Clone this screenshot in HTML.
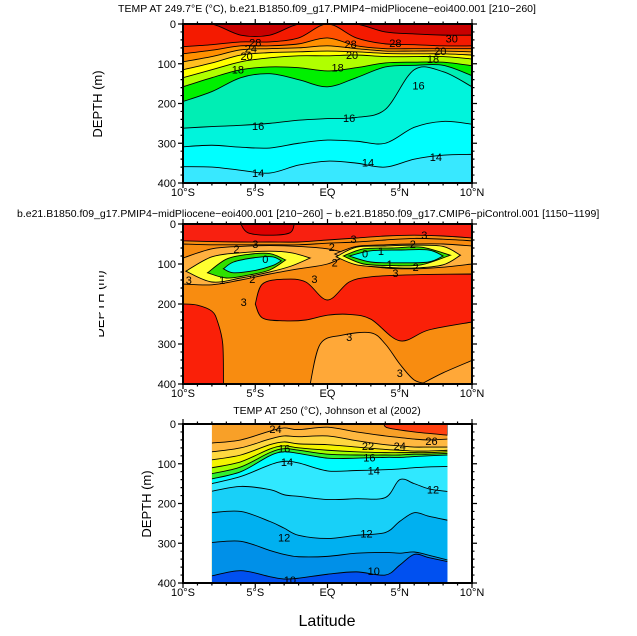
<!DOCTYPE html>
<html><head><meta charset="utf-8"><style>
html,body{margin:0;padding:0;background:#fff;}
svg{display:block;font-family:"Liberation Sans",sans-serif;}
</style></head><body>
<svg id="chart" xmlns="http://www.w3.org/2000/svg" width="637" height="636" viewBox="0 0 637 636"></svg>
<script>
// ---------- data ----------
const latTicks = [-10,-5,0,5,10];
const latTickLabels = ["10°S","5°S","EQ","5°N","10°N"];
const depthTicks = [0,100,200,300,400];

// Panel 1: model temperature isotherm depths (m)
const lats1 = [-10,-8,-6,-4,-2,0,2,4,6,8,10];
const p1Iso30 = [0,0,28,28,0,0,0,20,25,28,28];
const p1Iso28 = [57,52,45,45,35,0,35,50,52,55,55];
const p1Iso26 = [75,66,55,55,50,35,55,62,62,62,62];
const p1Iso24 = [95,82,65,62,60,55,62,68,68,68,70];
const p1Iso22 = [115,98,78,72,70,68,70,74,75,75,78];
const p1Iso20 = [135,115,95,85,80,80,78,82,82,82,88];
const p1Iso18 = [158,135,115,108,110,118,110,98,96,96,105];
const p1Iso17 = [195,170,135,125,140,158,135,108,104,104,130];
const p1Iso16 = [262,258,255,250,242,238,235,215,115,120,158];
const p1Iso15 = [309,305,310,312,300,292,295,300,260,245,252];
const p1Iso14 = [359,360,368,375,355,345,350,360,340,330,328];

// Panel 2: difference field regions (lat lists, top/bottom depths)
const lats2 = [-10,-8,-6,-4,-2,0,2,4,6,8,10];
const p2RedBottom = [42,44,45,45,45,40,35,30,28,30,35];
const p2Line3 = [50,52,52,52,52,48,45,40,36,38,42];
const p2DarkLats = [-6,-5.5,-4,-2.6,-2.3];
const p2DarkTop = [0,0,0,0,0];
const p2DarkBot = [0,22,28,22,0];
const p2LoLats = [-10,-8,-6,-4,-2,0,1.5];
const p2LoTop = [85,62,56,54,56,62,75];
const p2LoBot = [150,152,140,125,112,100,75];
const p2RoLats = [0.5,2,4,6,8,10];
const p2RoTop = [75,56,52,50,50,55];
const p2RoBot = [75,100,110,112,108,100];
const p2LyLats = [-9.8,-8,-6,-4,-2.5,-1.2];
const p2LyTop = [118,82,72,68,72,85];
const p2LyBot = [118,145,135,120,105,85];
const p2LgLats = [-8.3,-7,-5.5,-4,-2.9];
const p2LgTop = [122,88,76,74,90];
const p2LgBot = [122,135,128,115,90];
const p2LcLats = [-7.2,-6.5,-5,-3.8,-3.2];
const p2LcTop = [112,95,84,82,92];
const p2LcBot = [112,122,116,104,92];
const p2RyLats = [0.6,2,4,6,8,9.2];
const p2RyTop = [82,58,55,53,56,78];
const p2RyBot = [82,102,108,110,102,78];
const p2RgLats = [1.1,2.5,4.5,6.5,8.5];
const p2RgTop = [80,62,60,58,78];
const p2RgBot = [80,100,104,102,78];
const p2RcLats = [1.5,3,5,7,8];
const p2RcTop = [80,67,65,65,80];
const p2RcBot = [80,95,97,95,80];
const p2RbLats = [-5,-4.5,-3,-1.5,0,1.5,3,5,7,10];
const p2RbTop = [200,150,138,145,190,145,132,128,126,125];
const p2RbBot = [200,235,242,240,228,226,238,292,265,245];
const p2BlLats = [-10,-9,-8,-7.6,-7.25,-7.2];
const p2BlTop = [200,203,218,245,300,400];
const p2BlBot = [400,400,400,400,400,400];
const p2LbLats = [-1.2,-0.5,1,3,4,5,6,7];
const p2LbTop = [400,300,278,272,300,350,390,400];
const p2LbBot = [400,400,400,400,400,400,400,400];
const p2CnLats = [6.5,8,10];
const p2CnTop = [400,372,341];
const p2CnBot = [400,400,400];

// Panel 3: observed isotherm depths
const lats3 = [-8,-6,-4,-3,-2,0,2,4,5,6,7,8.3];
const p3PatchLats = [3.9,4.2,6,8.3];
const p3PatchTop = [0,0,0,0];
const p3PatchBot = [0,10,20,28];
const p3Iso24 = [48,40,18,10,14,8,20,30,34,38,40,38];
const p3Iso22 = [70,60,38,30,32,30,42,52,55,58,58,58];
const p3Iso20 = [90,78,52,45,50,52,58,64,66,68,68,66];
const p3Iso18 = [110,95,63,55,60,66,70,72,72,72,72,70];
const p3Iso17 = [125,108,72,62,66,76,78,78,78,76,76,74];
const p3Iso16 = [138,120,80,70,74,86,86,84,84,82,80,78];
const p3Iso14 = [150,132,103,94,98,118,117,115,113,110,108,107];
const p3Iso13 = [169,157,165,178,182,190,188,185,140,150,163,170];
const p3Iso12 = [223,220,245,262,280,288,280,273,245,223,232,242];
const p3Iso11 = [298,295,318,328,334,333,325,323,325,322,330,342];
const p3Iso10 = [382,369,384,390,388,378,372,380,355,328,336,346];

// ---------- drawing ----------
const NS = "http://www.w3.org/2000/svg";
const svg = document.getElementById("chart");
const X0 = 183, X1 = 472;
const panels = [{top:24,bot:183},{top:224,bot:384},{top:424,bot:583}];
function sx(lat){ return X0 + (lat+10)/20*(X1-X0); }
function sy(p,d){ return p.top + d/400*(p.bot-p.top); }
function mk(tag, attrs, parent){
  const e = document.createElementNS(NS, tag);
  for (const k in attrs) e.setAttribute(k, attrs[k]);
  (parent||svg).appendChild(e);
  return e;
}
function seg(pts, cmd){
  let d = cmd + pts[0][0].toFixed(2) + "," + pts[0][1].toFixed(2);
  const n = pts.length;
  for (let i=0;i<n-1;i++){
    const p0=pts[Math.max(i-1,0)], p1=pts[i], p2=pts[i+1], p3=pts[Math.min(i+2,n-1)];
    const c1=[p1[0]+(p2[0]-p0[0])/6, p1[1]+(p2[1]-p0[1])/6];
    const c2=[p2[0]-(p3[0]-p1[0])/6, p2[1]-(p3[1]-p1[1])/6];
    d += " C"+c1[0].toFixed(2)+","+c1[1].toFixed(2)+" "+c2[0].toFixed(2)+","+c2[1].toFixed(2)+" "+p2[0].toFixed(2)+","+p2[1].toFixed(2);
  }
  return d;
}
function pts(p, lats, deps){ return lats.map((l,i)=>[sx(l), sy(p,deps[i])]); }
function bandBelow(g, p, lats, deps, color, name, stroke){
  const pp = pts(p, lats, deps);
  const d = seg(pp,"M") + " L"+pp[pp.length-1][0]+","+(p.bot+2)+" L"+pp[0][0]+","+(p.bot+2)+" Z";
  const a = mk("path",{d:d, fill:color, stroke:"none"}, g);
  
  
  if (stroke!==false){
    const l = mk("path",{d:seg(pp,"M"), fill:"none", stroke:"#000", "stroke-width":"0.9"}, g);
    
    
  }
}
function lens(g, p, lats, top, bot, color, name){
  const a = pts(p, lats, top), b = pts(p, lats, bot).reverse();
  const d = seg(a,"M") + " " + seg(b,"L") + " Z";
  const e = mk("path",{d:d, fill:color, stroke:"#000", "stroke-width":"0.9"}, g);
  
  
}
function line(g, p, lats, deps, name){
  const e = mk("path",{d:seg(pts(p,lats,deps),"M"), fill:"none", stroke:"#000", "stroke-width":"0.9"}, g);
  
  
}
function txt(str, x, y, size, anchor, name, parent, extra){
  const t = mk("text",Object.assign({x:x, y:y, "font-size":size, "text-anchor":anchor||"middle", fill:"#000"}, extra||{}), parent);
  t.textContent = str;
  
  
  return t;
}
function clabel(g, p, lat, d, s){
  txt(s, sx(lat), sy(p,d)+4, 11, "middle", "contour-label", g);
}

const defs = mk("defs",{});
panels.forEach((p,i)=>{
  const cp = mk("clipPath",{id:"clip"+i}, defs);
  const x0 = i===2 ? sx(-8) : X0, x1 = i===2 ? sx(8.3) : X1;
  mk("rect",{x:x0, y:p.top, width:x1-x0, height:p.bot-p.top}, cp);
});

// ---- Panel 1 ----
(function(){
  const p = panels[0];
  const g = mk("g",{"clip-path":"url(#clip0)"});
  
  
  const bg = mk("rect",{x:X0,y:p.top,width:X1-X0,height:p.bot-p.top,fill:"#c80000"}, g);
  
  
  bandBelow(g,p,lats1,p1Iso30,"#f41a00","iso-30");
  bandBelow(g,p,lats1,p1Iso28,"#ff5000","iso-28");
  bandBelow(g,p,lats1,p1Iso26,"#ff9000","iso-26");
  bandBelow(g,p,lats1,p1Iso24,"#ffc020","iso-24");
  bandBelow(g,p,lats1,p1Iso22,"#ffff00","iso-22");
  bandBelow(g,p,lats1,p1Iso20,"#b0ff00","iso-20");
  bandBelow(g,p,lats1,p1Iso18,"#00f000","iso-18");
  bandBelow(g,p,lats1,p1Iso17,"#00eeb4","iso-17");
  bandBelow(g,p,lats1,p1Iso16,"#00f4dc","iso-16");
  bandBelow(g,p,lats1,p1Iso15,"#00ffff","iso-15");
  bandBelow(g,p,lats1,p1Iso14,"#38e8ff","iso-14");
  clabel(g,p,-5,46,"28"); clabel(g,p,-5.3,62,"24"); clabel(g,p,-5.6,80,"20");
  clabel(g,p,-6.2,114,"18"); clabel(g,p,-4.8,257,"16"); clabel(g,p,1.5,237,"16");
  clabel(g,p,6.3,155,"16"); clabel(g,p,-4.8,375,"14"); clabel(g,p,2.8,348,"14");
  clabel(g,p,7.5,335,"14"); clabel(g,p,8.6,37,"30"); clabel(g,p,4.7,48,"28");
  clabel(g,p,1.6,50,"28"); clabel(g,p,1.7,78,"20"); clabel(g,p,0.7,110,"18");
  clabel(g,p,7.3,88,"18"); clabel(g,p,7.8,68,"20");
})();

// ---- Panel 2 ----
(function(){
  const p = panels[1];
  const g = mk("g",{"clip-path":"url(#clip1)"});
  
  
  const bg = mk("rect",{x:X0,y:p.top,width:X1-X0,height:p.bot-p.top,fill:"#f88c10"}, g);
  
  
  const top = lats2.map(()=>0);
  lens(g,p,lats2,top.map(v=>-5),p2RedBottom,"#f82010","surface-red-band");
  lens(g,p,p2DarkLats,p2DarkTop,p2DarkBot,"#dd0000","dark-red-patch");
  line(g,p,lats2,p2Line3,"contour-3-upper");
  lens(g,p,p2LoLats,p2LoTop,p2LoBot,"#ffb040","left-lobe-outer");
  lens(g,p,p2RoLats,p2RoTop,p2RoBot,"#ffb040","right-lobe-outer");
  lens(g,p,p2LyLats,p2LyTop,p2LyBot,"#ffff30","left-lobe-yellow");
  lens(g,p,p2LgLats,p2LgTop,p2LgBot,"#30e000","left-lobe-green");
  lens(g,p,p2LcLats,p2LcTop,p2LcBot,"#00ffe8","left-lobe-cyan");
  lens(g,p,p2RyLats,p2RyTop,p2RyBot,"#ffff30","right-lobe-yellow");
  lens(g,p,p2RgLats,p2RgTop,p2RgBot,"#30e000","right-lobe-green");
  lens(g,p,p2RcLats,p2RcTop,p2RcBot,"#00ffe8","right-lobe-cyan");
  lens(g,p,p2RbLats,p2RbTop,p2RbBot,"#fa2008","subsurface-red-blob");
  lens(g,p,p2BlLats,p2BlTop,p2BlBot,"#fa2008","bottom-left-red-blob");
  lens(g,p,p2LbLats,p2LbTop,p2LbBot,"#ffa838","bottom-light-region");
  lens(g,p,p2CnLats,p2CnTop,p2CnBot,"#ffa838","bottom-right-light-region");
  clabel(g,p,-5,50,"3"); clabel(g,p,-6.3,63,"2"); clabel(g,p,-4.3,88,"0");
  clabel(g,p,-7.3,140,"1"); clabel(g,p,-5.2,138,"2"); clabel(g,p,-5.8,195,"3");
  clabel(g,p,0.3,58,"2"); clabel(g,p,1.8,38,"3"); clabel(g,p,0.5,96,"2");
  clabel(g,p,-0.9,138,"3"); clabel(g,p,1.5,282,"3"); clabel(g,p,5,372,"3");
  clabel(g,p,2.6,74,"0"); clabel(g,p,3.7,68,"1"); clabel(g,p,5.9,50,"2");
  clabel(g,p,6.7,28,"3"); clabel(g,p,4.3,100,"1"); clabel(g,p,4.7,122,"3");
  clabel(g,p,6.1,108,"2"); clabel(g,p,-9.6,140,"3");
})();

// ---- Panel 3 ----
(function(){
  const p = panels[2];
  const g = mk("g",{"clip-path":"url(#clip2)"});
  
  
  const bg = mk("rect",{x:X0,y:p.top,width:X1-X0,height:p.bot-p.top,fill:"#f8a028"}, g);
  
  
  lens(g,p,p3PatchLats,p3PatchTop,p3PatchBot,"#ff4010","warm-pool-patch");
  bandBelow(g,p,lats3,p3Iso24,"#ffb840","iso-24");
  bandBelow(g,p,lats3,p3Iso22,"#ffd840","iso-22");
  bandBelow(g,p,lats3,p3Iso20,"#f4f400","iso-20");
  bandBelow(g,p,lats3,p3Iso18,"#a0ff00","iso-18");
  bandBelow(g,p,lats3,p3Iso17,"#30f030","iso-17");
  bandBelow(g,p,lats3,p3Iso16,"#00fcff","iso-16");
  bandBelow(g,p,lats3,p3Iso14,"#30e8ff","iso-14");
  bandBelow(g,p,lats3,p3Iso13,"#18d0f8","iso-13");
  bandBelow(g,p,lats3,p3Iso12,"#00b0f0","iso-12");
  bandBelow(g,p,lats3,p3Iso11,"#0090e8","iso-11");
  bandBelow(g,p,lats3,p3Iso10,"#0050f0","iso-10");
  clabel(g,p,-3.6,12,"24"); clabel(g,p,-3,62,"16"); clabel(g,p,-2.8,96,"14");
  clabel(g,p,-3,285,"12"); clabel(g,p,-2.6,392,"10"); clabel(g,p,2.8,55,"22");
  clabel(g,p,5,55,"24"); clabel(g,p,7.2,43,"26"); clabel(g,p,2.9,84,"16");
  clabel(g,p,3.2,117,"14"); clabel(g,p,7.3,165,"12"); clabel(g,p,2.7,275,"12");
  clabel(g,p,3.2,370,"10");
})();

// ---- axes, ticks, labels ----
panels.forEach((p,i)=>{
  const ax = mk("g",{});
  
  
  const fr = mk("rect",{x:X0,y:p.top,width:X1-X0,height:p.bot-p.top,fill:"none",stroke:"#000","stroke-width":"2"}, ax);
  
  
  let d = "";
  for (let dep=0; dep<=400; dep+=20){
    const y = sy(p,dep), L = dep%100===0 ? 5 : 2.5;
    d += "M"+(X0-L)+","+y+"H"+X0+"M"+X1+","+y+"H"+(X1+L);
  }
  for (let lat=-10; lat<=10; lat+=1){
    const x = sx(lat), L = lat%5===0 ? 5 : 2.5;
    d += "M"+x+","+(p.top-L)+"V"+p.top+"M"+x+","+p.bot+"V"+(p.bot+L);
  }
  const tk = mk("path",{d:d, stroke:"#000","stroke-width":"1.2",fill:"none"}, ax);
  
  
  depthTicks.forEach(v=>{ txt(String(v), X0-7, sy(p,v)+4, 11, "end", "y-tick-label", ax); });
  latTicks.forEach((v,k)=>{ txt(latTickLabels[k], sx(v), p.bot+13, 11, "middle", "x-tick-label", ax); });
});

txt("TEMP AT 249.7°E (°C), b.e21.B1850.f09_g17.PMIP4\u2212midPliocene\u2212eoi400.001 [210\u2212260]", 327, 12, 10.5, "middle", "panel-1-title");
txt("b.e21.B1850.f09_g17.PMIP4\u2212midPliocene\u2212eoi400.001 [210\u2212260] \u2212 b.e21.B1850.f09_g17.CMIP6\u2212piControl.001 [1150\u22121199]", 17, 217, 10.5, "start", "panel-2-title");
txt("TEMP AT 250 (°C), Johnson et al (2002)", 327, 414, 10.5, "middle", "panel-3-title");
txt("DEPTH (m)", 0, 0, 13, "middle", "panel-1-y-axis-title", null, {transform:"translate(102,104) rotate(-90)"});
const cpy = mk("clipPath",{id:"clipY2"}, defs);
mk("rect",{x:99,y:266,width:20,height:80}, cpy);
const gy = mk("g",{"clip-path":"url(#clipY2)"});


txt("DEPTH (m)", 0, 0, 13, "middle", "panel-2-y-axis-title", gy, {transform:"translate(104,304) rotate(-90)"});
txt("DEPTH (m)", 0, 0, 13, "middle", "panel-3-y-axis-title", null, {transform:"translate(151,504) rotate(-90)"});
txt("Latitude", 327, 626, 16, "middle", "x-axis-title");
</script>
</body></html>
